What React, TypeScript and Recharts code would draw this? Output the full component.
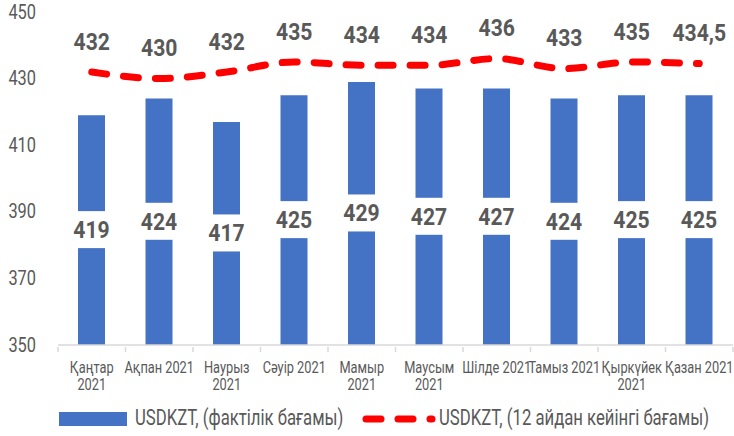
import { Bar, ComposedChart, LabelList, Legend, Line, XAxis, YAxis } from "recharts";

const months = [
  "Қаңтар\n2021",
  "Ақпан 2021",
  "Наурыз\n2021",
  "Сәуір 2021",
  "Мамыр\n2021",
  "Маусым\n2021",
  "Шілде 2021",
  "Тамыз 2021",
  "Қыркүйек\n2021",
  "Қазан 2021",
];
const actualRate = [419, 424, 417, 425, 429, 427, 427, 424, 425, 425];
const forecastRate = [432, 430, 432, 435, 434, 434, 436, 433, 435, 434.5];
const yTicks = [350, 370, 390, 410, 430, 450];

const actualName = "USDKZT, (фактілік бағамы)";
const forecastName = "USDKZT, (12 айдан кейінгі бағамы)";

const data = months.map((m, i) => ({
  month: m,
  actual: actualRate[i],
  forecast: forecastRate[i],
}));

const FONT = "Roboto, sans-serif";
const GREY = "#595959";
const BAND = 67.5;

const fmt = (v: number) => String(v).replace(".", ",");

// narrow text: the reference uses a condensed face, so squeeze Roboto horizontally
function NText({ x, y, size, sx, bold, anchor = "middle", children }: any) {
  return (
    <text
      transform={`translate(${x},${y}) scale(${sx},1)`}
      x={0}
      y={0}
      textAnchor={anchor}
      dominantBaseline="central"
      fill={GREY}
      fontSize={size}
      fontWeight={bold ? "bold" : "normal"}
      fontFamily={FONT}
    >
      {children}
    </text>
  );
}

function MonthTick({ x, y, payload, index }: any) {
  const lines = String(payload.value).split("\n");
  return (
    <g>
      <line x1={x - BAND / 2} x2={x - BAND / 2} y1={y} y2={y + 5} stroke="#d9d9d9" strokeWidth={1.5} />
      {index === months.length - 1 && (
        <line x1={x + BAND / 2} x2={x + BAND / 2} y1={y} y2={y + 5} stroke="#d9d9d9" strokeWidth={1.5} />
      )}
      {lines.map((l, i) => (
        <NText key={i} x={x} y={y + 21 + i * 17} size={16} sx={0.8}>
          {l}
        </NText>
      ))}
    </g>
  );
}

function ValueTick({ x, y, payload }: any) {
  return (
    <NText x={x} y={y} size={21} sx={0.78} anchor="end">
      {payload.value}
    </NText>
  );
}

function BarLabel({ x, y, width, height, value }: any) {
  const cx = x + width / 2;
  const cy = y + height / 2;
  return (
    <g>
      <rect x={cx - 24} y={cy - 19} width={48} height={37} fill="#ffffff" />
      <NText x={cx} y={cy} size={23} sx={0.92} bold>
        {fmt(value)}
      </NText>
    </g>
  );
}

function LineLabel({ x, y, value }: any) {
  return (
    <NText x={x} y={y - 30} size={23} sx={0.92} bold>
      {fmt(value)}
    </NText>
  );
}

function ChartLegend() {
  return (
    <svg width={734} height={41} style={{ display: "block" }}>
      <rect x={59} y={17} width={68} height={14} fill="#4472C4" />
      <NText x={135} y={23} size={22} sx={0.76} anchor="start">
        {actualName}
      </NText>
      <line x1={366} x2={432} y1={24} y2={24} stroke="#ff0000" strokeWidth={7} strokeLinecap="round" strokeDasharray="15 17" />
      <NText x={439} y={23} size={22} sx={0.76} anchor="start">
        {forecastName}
      </NText>
    </svg>
  );
}

export default function App() {
  return (
    <div style={{ width: 734, height: 436, background: "#fff" }}>
      <style>{`body{margin:0}`}</style>
      <ComposedChart width={734} height={436} data={data} margin={{ top: 12, right: 1, bottom: 0, left: 0 }}>
        <XAxis
          dataKey="month"
          height={50}
          axisLine={{ stroke: "#d9d9d9", strokeWidth: 1.5 }}
          tickLine={false}
          tickSize={0}
          tick={<MonthTick />}
          interval={0}
        />
        <YAxis
          domain={[350, 450]}
          ticks={yTicks}
          width={58}
          axisLine={false}
          tickLine={false}
          tickSize={0}
          tickMargin={22}
          tick={<ValueTick />}
        />
        <Legend verticalAlign="bottom" height={41} content={<ChartLegend />} wrapperStyle={{ left: 0, width: 734 }} />
        <Bar dataKey="actual" name={actualName} fill="#4472C4" barSize={27} isAnimationActive={false}>
          <LabelList dataKey="actual" content={<BarLabel />} />
        </Bar>
        <Line
          type="monotone"
          dataKey="forecast"
          name={forecastName}
          stroke="#ff0000"
          strokeWidth={7}
          strokeLinecap="round"
          strokeDasharray="15 17"
          dot={false}
          activeDot={false}
          isAnimationActive={false}
        >
          <LabelList dataKey="forecast" content={<LineLabel />} />
        </Line>
      </ComposedChart>
    </div>
  );
}
